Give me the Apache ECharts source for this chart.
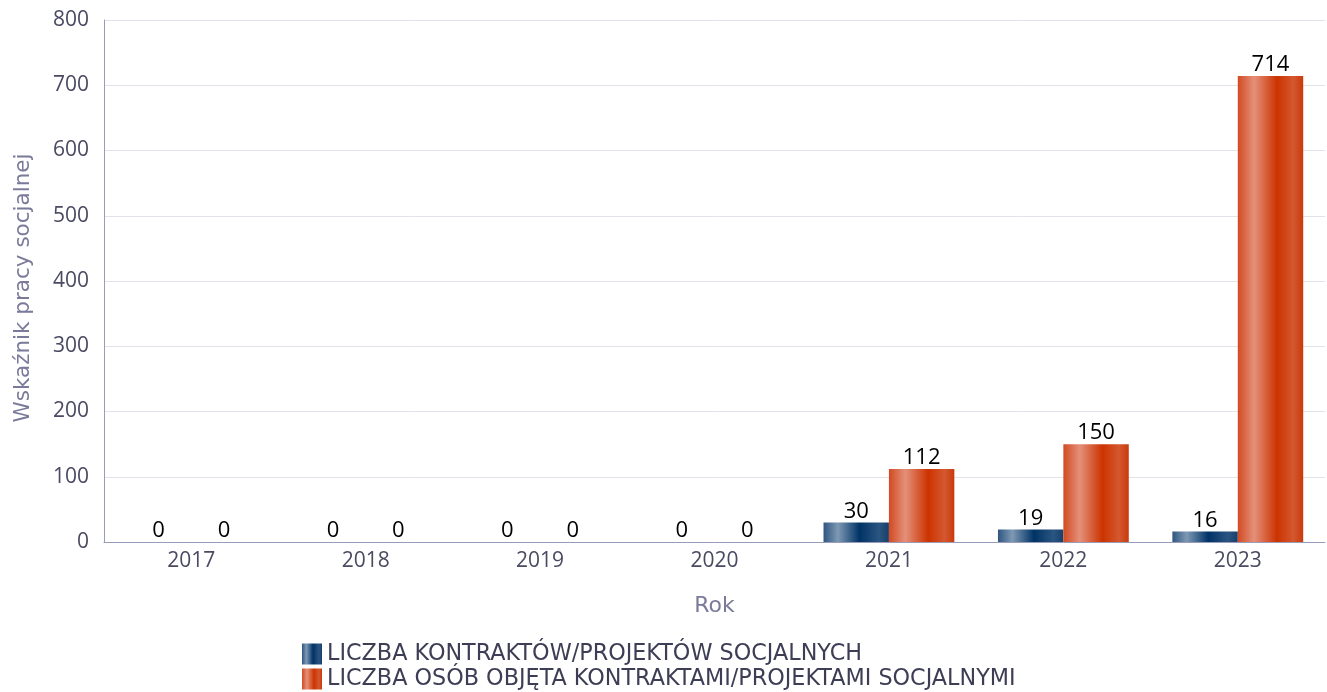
<!DOCTYPE html>
<html><head><meta charset="utf-8">
<script src="https://cdn.jsdelivr.net/npm/echarts@6/dist/echarts.min.js"></script>
<style>html,body{margin:0;padding:0;background:#fff}#c{width:1327px;height:692px}</style>
</head><body><div id="c"></div>
<script>
const categories = ['2017','2018','2019','2020','2021','2022','2023'];
const contracts = [0,0,0,0,30,19,16];
const persons = [0,0,0,0,112,150,714];
const seriesNames = ['LICZBA KONTRAKTÓW/PROJEKTÓW SOCJALNYCH','LICZBA OSÓB OBJĘTA KONTRAKTAMI/PROJEKTAMI SOCJALNYMI'];

const FONT = 'Open Sans';
const FONT2 = 'DejaVu Sans';
function grad(stops){
  return new echarts.graphic.LinearGradient(0,0,1,0, stops.map(s=>({offset:s[0],color:s[1]})));
}
const blueGrad = grad([[0,'#2f5680'],[0.22,'#7e99b4'],[0.55,'#003366'],[0.85,'#2b5581'],[1,'#173f6b']]);
const orangeGrad = grad([[0,'#d24a22'],[0.25,'#e4907a'],[0.6,'#cc3300'],[0.85,'#d4582f'],[1,'#c93a0a']]);

const chart = echarts.init(document.getElementById('c'));
const labelCfg = {show:true, position:'top', color:'#000', fontSize:22, fontFamily:FONT, distance:0};
chart.setOption({
  animation:false,
  textStyle:{fontFamily:FONT},
  grid:{left:104, right:2, top:20, bottom:150, containLabel:false, outerBoundsMode:'none'},
  legend:{
    orient:'vertical', left:302, top:643, padding:0, itemGap:3, itemWidth:20, itemHeight:21,
    icon:'rect', textStyle:{color:'#3d3d55', fontSize:22.3, fontFamily:FONT2},
    data:seriesNames
  },
  xAxis:{
    type:'category', data:categories,
    name:'Rok', nameLocation:'middle', nameGap:53,
    nameTextStyle:{color:'#7a7a9a', fontSize:22, fontFamily:FONT2},
    axisLine:{lineStyle:{color:'#9a9abb', width:1}},
    axisTick:{show:false},
    axisLabel:{color:'#4a4a62', fontSize:21, margin:9, fontFamily:FONT}
  },
  yAxis:{
    type:'value', min:0, max:800, interval:100,
    name:'Wskaźnik pracy socjalnej', nameLocation:'middle', nameGap:70, nameRotate:90,
    nameTextStyle:{color:'#7a7a9a', fontSize:21.5, fontFamily:FONT2, padding:[0,14,0,0]},
    axisLine:{show:true, lineStyle:{color:'#9a9abb', width:1}},
    axisTick:{show:false},
    splitLine:{lineStyle:{color:'#e2e2ea'}},
    axisLabel:{color:'#4a4a62', fontSize:21, margin:15, fontFamily:FONT}
  },
  series:[
    {name:seriesNames[0], type:'bar', data:contracts, barGap:'0%', barCategoryGap:'25%',
     itemStyle:{color:blueGrad}, label:labelCfg},
    {name:seriesNames[1], type:'bar', data:persons,
     itemStyle:{color:orangeGrad}, label:labelCfg}
  ]
});
</script></body></html>
